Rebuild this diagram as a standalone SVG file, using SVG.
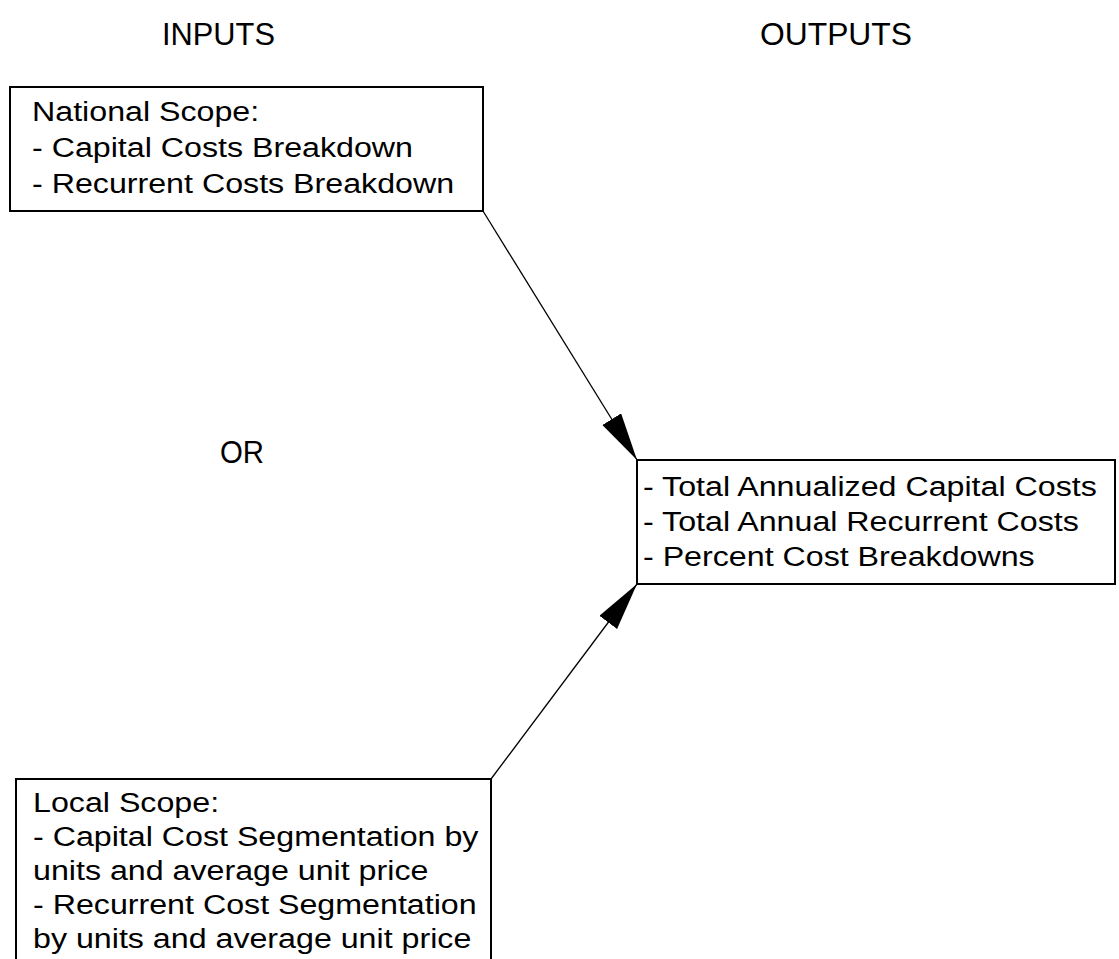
<svg xmlns="http://www.w3.org/2000/svg" width="1119" height="959" viewBox="0 0 1119 959">
<style>
text{font-family:"Liberation Sans",Arial,sans-serif;fill:#000}
.h{font-size:32px}
.b{font-size:28px}
.box{fill:#fff;stroke:#000;stroke-width:2}
.conn{stroke:#000;stroke-width:1.3;fill:none}
</style>
<defs>
<marker id="ah" markerUnits="userSpaceOnUse" markerWidth="52" markerHeight="26" refX="48" refY="11" orient="auto">
<path d="M0,0 L48,11 L0,22 Z" fill="#000"/>
</marker>
</defs>
<rect width="1119" height="959" fill="#fff"/>
<g id="heading-inputs"><text class="h" x="162" y="45" textLength="113" lengthAdjust="spacingAndGlyphs">INPUTS</text></g>
<g id="heading-outputs"><text class="h" x="760" y="45" textLength="152" lengthAdjust="spacingAndGlyphs">OUTPUTS</text></g>
<g id="or-label"><text class="h" x="220" y="463" textLength="44" lengthAdjust="spacingAndGlyphs">OR</text></g>
<g id="connectors">
<line class="conn" x1="483" y1="211" x2="637" y2="460" marker-end="url(#ah)"/>
<line class="conn" x1="491" y1="779" x2="637" y2="584" marker-end="url(#ah)"/>
</g>
<g id="national">
<rect class="box" x="10" y="87" width="473" height="124"/>
<g transform="translate(32 0) scale(1.15 1)">
<text class="b" x="0" y="121">National Scope:</text>
<text class="b" x="0" y="157">- Capital Costs Breakdown</text>
<text class="b" x="0" y="193">- Recurrent Costs Breakdown</text>
</g>
</g>
<g id="outputs">
<rect class="box" x="637" y="460" width="478" height="124"/>
<g transform="translate(643 0) scale(1.15 1)">
<text class="b" x="0" y="496">- Total Annualized Capital Costs</text>
<text class="b" x="0" y="531">- Total Annual Recurrent Costs</text>
<text class="b" x="0" y="566">- Percent Cost Breakdowns</text>
</g>
</g>
<g id="local">
<rect class="box" x="16" y="779" width="475" height="200"/>
<g transform="translate(33 0) scale(1.15 1)">
<text class="b" x="0" y="812">Local Scope:</text>
<text class="b" x="0" y="846">- Capital Cost Segmentation by</text>
<text class="b" x="0" y="880">units and average unit price</text>
<text class="b" x="0" y="914">- Recurrent Cost Segmentation</text>
<text class="b" x="0" y="948">by units and average unit price</text>
</g>
</g>
</svg>
